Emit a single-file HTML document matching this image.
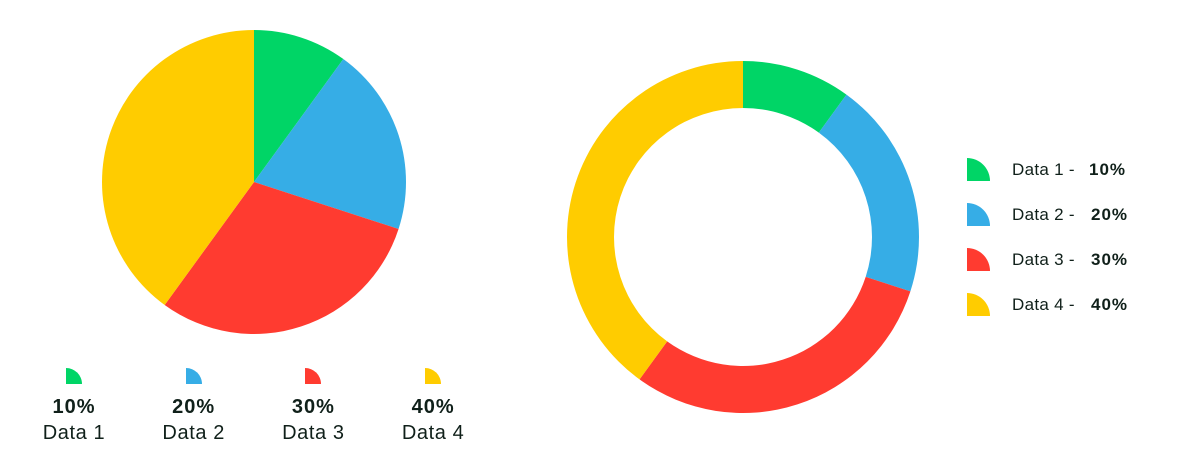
<!DOCTYPE html>
<html><head><meta charset="utf-8"><style>
body{margin:0;width:1199px;height:469px;background:#fff;font-family:"Liberation Sans",sans-serif;color:#10201a;overflow:hidden;position:relative}
.q{position:absolute;border-top-right-radius:100%}
.t{position:absolute;white-space:nowrap}
</style></head><body>
<svg id="chart" width="1199" height="469" style="position:absolute;left:0;top:0"></svg>
<div id="legends"></div>
<script>
const categories=["Data 1","Data 2","Data 3","Data 4"];
const values=[10,20,30,40];
const colors=["#00D566","#36ADE6","#FF3B30","#FFCC00"];
const ns="http://www.w3.org/2000/svg";
const svg=document.getElementById('chart');
const total=values.reduce((a,b)=>a+b,0);
function pt(cx,cy,r,a){return [cx+r*Math.sin(a),cy-r*Math.cos(a)];}
function drawPie(cx,cy,R,r,name){
  let a=0;
  values.forEach((v,i)=>{
    const a2=a+v/total*2*Math.PI,lg=(a2-a)>Math.PI?1:0;
    const [x1,y1]=pt(cx,cy,R,a),[x2,y2]=pt(cx,cy,R,a2);
    let d;
    if(r>0){const [x3,y3]=pt(cx,cy,r,a2),[x4,y4]=pt(cx,cy,r,a);
      d=`M${x1},${y1}A${R},${R} 0 ${lg} 1 ${x2},${y2}L${x3},${y3}A${r},${r} 0 ${lg} 0 ${x4},${y4}Z`;}
    else d=`M${cx},${cy}L${x1},${y1}A${R},${R} 0 ${lg} 1 ${x2},${y2}Z`;
    const p=document.createElementNS(ns,'path');
    p.setAttribute('d',d);p.setAttribute('fill',colors[i]);
    
    
    svg.appendChild(p);a=a2;
  });
}
drawPie(254,182,152,0,'pie');
drawPie(743,237,176,129,'donut');
const L=document.getElementById('legends');
values.forEach((v,i)=>{
  const cx=74+i*119.7;
  const q=document.createElement('div');q.className='q';
  q.style.cssText=`left:${cx-8}px;top:368px;width:16px;height:16px;background:${colors[i]}`;
  
  L.appendChild(q);
  const p=document.createElementNS?document.createElement('div'):null;p.className='t';
  p.style.cssText=`left:${cx-60}px;width:120px;text-align:center;top:396px;font-size:20px;font-weight:bold;letter-spacing:1px`;
  p.textContent=v+'%';
  
  L.appendChild(p);
  const n=document.createElement('div');n.className='t';
  n.style.cssText=`left:${cx-60}px;width:120px;text-align:center;top:422px;font-size:20px;letter-spacing:0.6px`;
  n.textContent=categories[i];
  
  L.appendChild(n);
  const y=158+i*45;
  const q2=document.createElement('div');q2.className='q';
  q2.style.cssText=`left:967px;top:${y}px;width:23px;height:23px;background:${colors[i]}`;
  
  L.appendChild(q2);
  const t=document.createElement('div');t.className='t';
  t.style.cssText=`left:1012px;top:${y+2}px;font-size:17px;letter-spacing:0.3px`;
  t.textContent=categories[i]+' -';
  
  L.appendChild(t);
  const b=document.createElement('div');b.className='t';
  b.style.cssText=`left:${i==0?1089:1091}px;top:${y+2}px;font-size:17px;font-weight:bold;letter-spacing:1px`;
  b.textContent=v+'%';
  
  L.appendChild(b);
});
</script>
</body></html>
